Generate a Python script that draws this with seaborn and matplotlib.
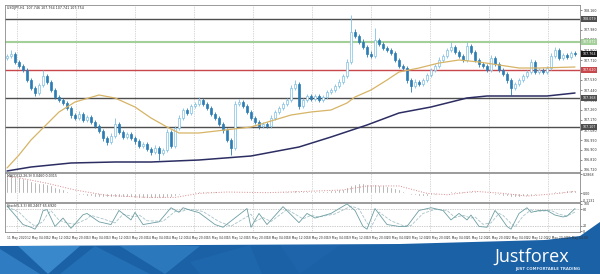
import numpy as np
import pandas as pd
import matplotlib
matplotlib.use("Agg")
import matplotlib.pyplot as plt
import matplotlib.transforms as mtransforms
from matplotlib.patches import Polygon
import seaborn as sns

sns.set_style("white")
plt.rcParams["font.family"] = ["DejaVu Sans"]

# ---------------- data ----------------
symbol_header = "USDJPY,H1  107.746 107.764 107.741 107.754"
macd_header = "MACD(12,26,9) 0.0460 0.0315"
stoch_header = "Stoch(5,3,3) 80.2467 65.6920"

first_open = 107.730
close = [
    107.746, 107.764, 107.692, 107.656, 107.620, 107.530, 107.458, 107.413, 107.485, 107.566,
    107.512, 107.440, 107.377, 107.350, 107.323, 107.278, 107.215, 107.188, 107.224, 107.170,
    107.197, 107.152, 107.116, 107.071, 107.008, 106.972, 107.026, 107.134, 107.062, 107.017,
    107.044, 107.008, 106.981, 106.936, 106.954, 106.909, 106.882, 106.918, 106.873, 106.900,
    107.062, 106.936, 107.098, 107.188, 107.260, 107.233, 107.296, 107.314, 107.350, 107.314,
    107.278, 107.224, 107.188, 107.134, 107.080, 106.990, 106.918, 107.314, 107.332, 107.296,
    107.242, 107.188, 107.152, 107.116, 107.134, 107.116, 107.188, 107.242, 107.278, 107.314,
    107.350, 107.458, 107.494, 107.296, 107.350, 107.386, 107.359, 107.386, 107.350, 107.377,
    107.422, 107.440, 107.476, 107.512, 107.566, 107.692, 107.962, 107.926, 107.872, 107.827,
    107.764, 107.746, 107.890, 107.854, 107.818, 107.800, 107.773, 107.710, 107.656, 107.638,
    107.530, 107.476, 107.512, 107.494, 107.530, 107.575, 107.620, 107.656, 107.710, 107.746,
    107.800, 107.827, 107.782, 107.746, 107.710, 107.836, 107.782, 107.710, 107.674, 107.656,
    107.620, 107.728, 107.674, 107.620, 107.584, 107.530, 107.458, 107.494, 107.530, 107.566,
    107.602, 107.692, 107.602, 107.620, 107.602, 107.638, 107.746, 107.800, 107.728, 107.755,
    107.737, 107.773, 107.764]

upper_wick = [
    0.020, 0.036, 0.018, 0.015, 0.020, 0.018, 0.022, 0.015, 0.020, 0.050,
    0.018, 0.020, 0.015, 0.018, 0.022, 0.015, 0.018, 0.020, 0.025, 0.015,
    0.020, 0.018, 0.015, 0.022, 0.018, 0.020, 0.025, 0.050, 0.018, 0.020,
    0.015, 0.018, 0.022, 0.015, 0.020, 0.018, 0.015, 0.025, 0.018, 0.020,
    0.030, 0.018, 0.020, 0.025, 0.018, 0.020, 0.015, 0.022, 0.030, 0.018,
    0.015, 0.020, 0.018, 0.022, 0.015, 0.018, 0.020, 0.030, 0.025, 0.018,
    0.020, 0.015, 0.018, 0.022, 0.020, 0.018, 0.025, 0.020, 0.015, 0.022,
    0.020, 0.025, 0.036, 0.020, 0.018, 0.022, 0.018, 0.015, 0.020, 0.018,
    0.022, 0.018, 0.020, 0.025, 0.020, 0.030, 0.150, 0.030, 0.020, 0.025,
    0.018, 0.030, 0.108, 0.020, 0.018, 0.022, 0.015, 0.020, 0.018, 0.022,
    0.020, 0.018, 0.025, 0.020, 0.018, 0.022, 0.020, 0.018, 0.025, 0.020,
    0.022, 0.045, 0.018, 0.020, 0.015, 0.036, 0.020, 0.018, 0.022, 0.015,
    0.020, 0.030, 0.018, 0.020, 0.015, 0.018, 0.020, 0.022, 0.018, 0.020,
    0.018, 0.030, 0.020, 0.018, 0.022, 0.020, 0.030, 0.025, 0.018, 0.020,
    0.018, 0.022, 0.015]

lower_wick = [
    0.018, 0.015, 0.020, 0.018, 0.022, 0.020, 0.018, 0.025, 0.015, 0.018,
    0.020, 0.018, 0.022, 0.015, 0.020, 0.018, 0.025, 0.020, 0.015, 0.022,
    0.018, 0.020, 0.015, 0.022, 0.025, 0.030, 0.018, 0.015, 0.020, 0.022,
    0.018, 0.020, 0.025, 0.018, 0.020, 0.022, 0.025, 0.018, 0.063, 0.020,
    0.018, 0.022, 0.020, 0.015, 0.018, 0.020, 0.018, 0.015, 0.020, 0.018,
    0.020, 0.022, 0.018, 0.020, 0.025, 0.022, 0.063, 0.020, 0.018, 0.020,
    0.022, 0.018, 0.020, 0.025, 0.018, 0.022, 0.020, 0.015, 0.018, 0.020,
    0.015, 0.018, 0.020, 0.025, 0.020, 0.018, 0.022, 0.020, 0.018, 0.020,
    0.018, 0.015, 0.020, 0.018, 0.015, 0.020, 0.018, 0.022, 0.020, 0.018,
    0.025, 0.020, 0.018, 0.020, 0.022, 0.018, 0.020, 0.022, 0.018, 0.020,
    0.025, 0.054, 0.020, 0.022, 0.018, 0.020, 0.018, 0.015, 0.020, 0.018,
    0.015, 0.018, 0.020, 0.022, 0.020, 0.018, 0.020, 0.022, 0.025, 0.020,
    0.018, 0.020, 0.022, 0.018, 0.020, 0.025, 0.063, 0.020, 0.018, 0.020,
    0.018, 0.020, 0.022, 0.018, 0.020, 0.018, 0.020, 0.018, 0.022, 0.020,
    0.018, 0.020, 0.018]

ma_fast_idx = [0, 3, 6, 13, 17, 23, 27, 32, 36, 40, 43, 48, 61, 71, 76, 81, 85, 87, 91,
               95, 98, 103, 108, 113, 118, 123, 128, 133, 142]
ma_fast = [106.738, 106.855, 106.990, 107.242, 107.332, 107.395, 107.368, 107.287, 107.188,
           107.107, 107.053, 107.053, 107.107, 107.215, 107.242, 107.260, 107.323, 107.377,
           107.440, 107.530, 107.602, 107.638, 107.683, 107.710, 107.692, 107.665, 107.638,
           107.638, 107.647]

ma_slow_idx = [0, 6, 16, 27, 36, 48, 61, 73, 81, 90, 98, 106, 115, 120, 135, 142]
ma_slow = [106.711, 106.747, 106.783, 106.792, 106.792, 106.810, 106.846, 106.927, 107.017,
           107.125, 107.233, 107.287, 107.368, 107.386, 107.386, 107.413]

levels = [108.079, 107.872, 107.620, 107.368, 107.107]
level_colors = ["#4e4e4e", "#a3cf98", "#c8474b", "#4e4e4e", "#4e4e4e"]
level_widths = [1.0, 1.5, 1.0, 1.0, 1.0]
last_price = 107.764

price_ticks = [106.720, 106.810, 106.900, 106.990, 107.080, 107.170, 107.260, 107.350,
               107.440, 107.530, 107.620, 107.710, 107.800, 107.890, 107.980, 108.070, 108.160]

macd_hist = [
    0.26, 0.26, 0.25, 0.24, 0.23,
    0.21, 0.19, 0.17, 0.16, 0.15, 0.14,
    0.12, 0.10, 0.08, 0.06, 0.04, 0.02,
    0.00, -0.02, -0.03, -0.04,
    -0.04, -0.05, -0.05, -0.06, -0.06, -0.06, -0.05, -0.05, -0.06, -0.06,
    -0.06, -0.07, -0.07, -0.07, -0.07, -0.07, -0.07, -0.07, -0.07, -0.06,
    -0.05, -0.04, -0.02, -0.01, 0.01, 0.02, 0.03, 0.04,
    0.04, 0.04, 0.03, 0.03, 0.02, 0.01, 0.00, -0.01,
    0.00, 0.01, 0.01, 0.01, 0.01, 0.00, 0.00, 0.00, 0.00,
    0.01, 0.02, 0.02, 0.03, 0.03, 0.04, 0.05, 0.04, 0.04, 0.04,
    0.04, 0.04, 0.04, 0.04, 0.04, 0.05, 0.05, 0.06, 0.07,
    0.09, 0.12, 0.14, 0.15, 0.15, 0.14, 0.14, 0.14,
    0.13, 0.12, 0.11, 0.10, 0.08, 0.06, 0.03,
    0.00, -0.02, -0.03, -0.04, -0.04, -0.04, -0.03, -0.02, -0.01,
    0.01, 0.02, 0.03, 0.04, 0.04, 0.04, 0.04, 0.04, 0.03, 0.02, 0.01, 0.00,
    -0.01, -0.02, -0.03, -0.04, -0.04, -0.05, -0.05, -0.05, -0.04, -0.04, -0.03, -0.02, -0.01, 0.00,
    0.01, 0.02, 0.03, 0.04, 0.04, 0.05, 0.05, 0.05]
macd_sig_idx = [0, 3, 10, 17, 20, 25, 35, 42, 48, 55, 65, 75, 84, 90, 98, 105, 110, 117, 124, 130, 138, 142]
macd_sig = [0.25, 0.23, 0.15, 0.05, 0.02, -0.03, -0.06, -0.06, 0.00, 0.02, 0.01, 0.03, 0.05,
            0.11, 0.11, 0.00, -0.02, 0.03, 0.00, -0.04, 0.00, 0.03]
macd_ticks = [0.2868, 0.0, -0.1131]
macd_tick_labels = ["0.2868", "0.00", "-0.1131"]

stoch_k_idx = [0, 2, 4, 6, 7, 8, 9, 10, 12, 14, 16, 19, 20, 23, 26, 28, 31, 32, 34, 38, 41, 43,
               44, 46, 48, 52, 54, 60, 61, 63, 65, 69, 73, 75, 77, 81, 85, 87, 89, 90, 92, 95,
               98, 100, 103, 106, 109, 111, 113, 115, 116, 118, 120, 122, 123, 125, 126, 128,
               130, 131, 133, 135, 137, 139, 140, 142]
stoch_k = [93, 59, 24, 14, 7, 30, 75, 79, 17, 48, 10, 60, 65, 34, 24, 76, 41, 69, 24, 34, 86, 69,
           86, 76, 68, 24, 14, 83, 14, 65, 24, 90, 31, 65, 48, 65, 100, 76, 17, 7, 83, 24,
           17, 17, 76, 86, 76, 41, 65, 41, 59, 17, 14, 76, 59, 17, 7, 65,
           86, 69, 76, 76, 59, 52, 55, 83]
stoch_d_idx = [0, 3, 5, 7, 9, 10, 11, 13, 15, 17, 20, 21, 24, 27, 29, 32, 33, 35, 39, 42,
               44, 45, 47, 49, 53, 56, 61, 62, 64, 66, 70, 74, 76, 78, 82, 86, 88, 90, 91, 93,
               96, 99, 101, 104, 107, 110, 112, 114, 116, 117, 119, 121, 123, 124, 126, 127,
               129, 131, 132, 134, 136, 138, 140, 142]
stoch_d = [90, 70, 40, 18, 35, 60, 75, 40, 30, 25, 45, 58, 45, 30, 62, 52, 60, 38, 36, 72,
           74, 80, 78, 72, 35, 18, 62, 35, 50, 35, 80, 45, 58, 52, 63, 92, 82, 30, 14, 70,
           38, 20, 20, 65, 80, 76, 50, 58, 48, 52, 25, 30, 65, 58, 28, 15,
           55, 78, 72, 74, 76, 62, 56, 70]
stoch_ticks = [100, 80, 20, 0]

date_labels = ["11 May 2020", "12 May 04:00", "12 May 12:00", "12 May 20:00", "13 May 04:00",
               "13 May 12:00", "13 May 20:00", "14 May 04:00", "14 May 12:00", "14 May 20:00",
               "15 May 04:00", "15 May 12:00", "15 May 20:00", "18 May 04:00", "18 May 12:00",
               "18 May 20:00", "19 May 04:00", "19 May 12:00", "19 May 20:00", "20 May 04:00",
               "20 May 12:00", "20 May 20:00", "21 May 04:00", "21 May 12:00", "21 May 20:00",
               "22 May 04:00", "22 May 12:00", "22 May 20:00", "25 May 04:00"]
date_label_step = 5

brand = "Justforex"
tagline = "JUST COMFORTABLE TRADING"

# ---------------- derived table ----------------
n = min(len(close), len(upper_wick), len(lower_wick))
df = pd.DataFrame({"close": close[:n]})
df["open"] = [first_open] + close[:n - 1]
df["high"] = np.maximum(df["open"], df["close"]) + np.array(upper_wick[:n])
df["low"] = np.minimum(df["open"], df["close"]) - np.array(lower_wick[:n])
df["bull"] = df["close"] >= df["open"]
df["i"] = np.arange(n)

# ---------------- figure ----------------
W, H = 600, 274
fig = plt.figure(figsize=(6, 2.74), dpi=100)
fig.patch.set_facecolor("white")

def frac(x0, y0, x1, y1):
    return [x0 / W, 1 - y1 / H, (x1 - x0) / W, (y1 - y0) / H]

def P(pts):
    return [(x / W, 1 - y / H) for x, y in pts]

# banner
banner = Polygon(P([(0, 246), (400, 244), (545, 240), (580, 236), (600, 222), (600, 274), (0, 274)]),
                 closed=True, transform=fig.transFigure, fc="#1b61a6", ec="none", zorder=-5)
fig.add_artist(banner)
tex = [
    ([(0, 249), (40, 274), (0, 274)], "#2f7cc2"),
    ([(18, 246), (80, 246), (48, 274)], "#3a88cc"),
    ([(60, 274), (95, 246), (150, 274)], "#2470b6"),
    ([(120, 246), (200, 246), (165, 274)], "#2c78bd"),
    ([(190, 262), (250, 245), (262, 274), (200, 274)], "#1e67ad"),
    ([(280, 245), (340, 245), (300, 274)], "#1d64aa"),
]
for pts, c in tex:
    fig.add_artist(Polygon(P(pts), closed=True, transform=fig.transFigure, fc=c, ec="none", zorder=-4))

fig.text(494 / W, 1 - 262 / H, brand, fontsize=13, color="white", family=["Open Sans", "DejaVu Sans"],
         ha="left", va="baseline")
fig.text(580 / W, 1 - 270 / H, tagline, fontsize=2.8, color="#d8e6f3", weight="bold",
         ha="right", va="baseline")

ax = fig.add_axes(frac(5, 5, 580, 172))
ax2 = fig.add_axes(frac(5, 173, 580, 202))
ax3 = fig.add_axes(frac(5, 203, 580, 232))

grid_pos = np.arange(2.4, n, 14.75)
for a in (ax, ax2, ax3):
    a.set_facecolor("white")
    a.set_xlim(-0.5, 143.25)
    for s in a.spines.values():
        s.set_color("#8a8a8a")
        s.set_linewidth(0.6)
    a.yaxis.tick_right()
    a.tick_params(axis="both", labelsize=2.3, length=1.5, width=0.4, colors="#333333", pad=0.8)
    for g in grid_pos:
        a.axvline(g, color="#b0b0b0", lw=0.5, ls=(0, (1, 1.5)), zorder=0)

# ---- main price panel ----
ax.set_ylim(106.702, 108.205)
for lv, c, w in zip(levels, level_colors, level_widths):
    ax.axhline(lv, color=c, lw=w, zorder=1)

bull_edge, bear_col = "#7fc0e3", "#2c7db3"
cols = np.where(df["bull"], bull_edge, bear_col)
ax.vlines(df["i"], df["low"], df["high"], colors=cols, lw=0.6, zorder=2)
body_bottom = np.minimum(df["open"], df["close"])
body_h = np.maximum(np.abs(df["close"] - df["open"]), 0.004)
ax.bar(df["i"], body_h, bottom=body_bottom, width=0.62,
       color=np.where(df["bull"], "white", bear_col), edgecolor=cols, linewidth=0.5, zorder=3)

sns.lineplot(x=ma_fast_idx, y=ma_fast, ax=ax, color="#d7b466", linewidth=0.9, legend=False, zorder=4)
sns.lineplot(x=ma_slow_idx, y=ma_slow, ax=ax, color="#2c2d62", linewidth=1.1, legend=False, zorder=4)

ax.set_yticks(price_ticks)
ax.set_yticklabels([f"{v:.3f}" for v in price_ticks])
ax.set_xticks([])
ax.set_xlabel("")
ax.set_ylabel("")
ax.text(0.003, 0.992, symbol_header, transform=ax.transAxes, fontsize=2.3, color="#222222",
        ha="left", va="top")

tr = mtransforms.blended_transform_factory(ax.transAxes, ax.transData)
for lv, c in zip(levels, level_colors):
    ax.text(1.004, lv, f"{lv:.3f}", transform=tr, fontsize=2.3, color="white", ha="left",
            va="center", bbox=dict(boxstyle="square,pad=0.45", fc=c, ec="none"), zorder=6, clip_on=False)
ax.text(1.004, last_price, f"{last_price:.3f}", transform=tr, fontsize=2.3, color="white", ha="left",
        va="center", bbox=dict(boxstyle="square,pad=0.45", fc="#1a1a1a", ec="none"), zorder=6, clip_on=False)

# ---- MACD panel ----
m = min(n, len(macd_hist))
ax2.set_ylim(-0.128, 0.302)
ax2.bar(np.arange(m), macd_hist[:m], width=0.28, color="#8c8c8c", zorder=2)
sns.lineplot(x=macd_sig_idx, y=macd_sig, ax=ax2, color="#d98a8c", linewidth=0.7,
             linestyle=":", legend=False, zorder=3)
ax2.set_yticks(macd_ticks)
ax2.set_yticklabels(macd_tick_labels)
ax2.set_xticks([])
ax2.set_xlabel("")
ax2.set_ylabel("")
ax2.text(0.003, 0.97, macd_header, transform=ax2.transAxes, fontsize=2.3, color="#222222",
         ha="left", va="top")

# ---- Stochastic panel ----
ax3.set_ylim(-3.5, 103.5)
for lvl in (80, 20):
    ax3.axhline(lvl, color="#9a9a9a", lw=0.5, ls=(0, (1, 1.5)), zorder=1)
sns.lineplot(x=stoch_k_idx, y=stoch_k, ax=ax3, color="#6d9ea3", linewidth=0.6, legend=False, zorder=3)
sns.lineplot(x=stoch_d_idx, y=stoch_d, ax=ax3, color="#a9c4c8", linewidth=0.6, linestyle="--",
             legend=False, zorder=2)
ax3.set_yticks(stoch_ticks)
ax3.set_yticklabels([str(v) for v in stoch_ticks])
label_pos = np.arange(len(date_labels)) * date_label_step
ax3.set_xticks(label_pos)
ax3.set_xticklabels(date_labels, fontsize=2.2, ha="left")
ax3.tick_params(axis="x", length=1.5, pad=1.2)
ax3.set_xlabel("")
ax3.set_ylabel("")
ax3.text(0.003, 0.97, stoch_header, transform=ax3.transAxes, fontsize=2.3, color="#222222",
         ha="left", va="top")

fig.savefig("out.png", dpi=100, facecolor="white")
